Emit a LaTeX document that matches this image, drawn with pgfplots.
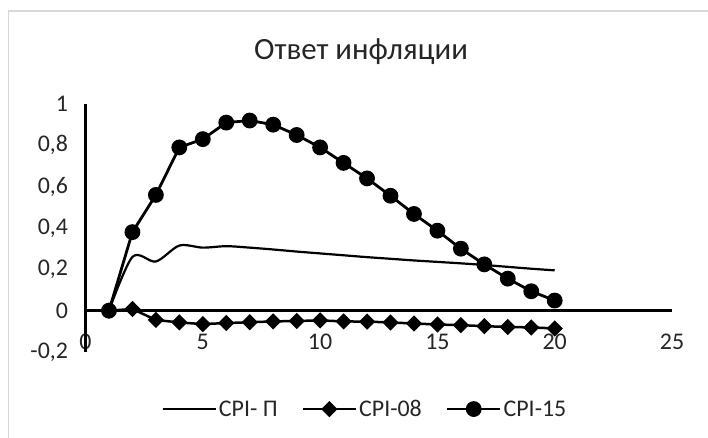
\documentclass[border=0pt]{standalone}
\usepackage{fontspec}
\setmainfont{Carlito}
\usepackage{pgfplots}
\pgfplotsset{compat=1.18}
\begin{document}
\begin{tikzpicture}
\path[use as bounding box] (0bp,0bp) rectangle (708bp,438bp);
\draw[color=black!15, line width=1.5bp] (8.5bp,0bp) -- (8.5bp,427bp) -- (708bp,427bp);
\begin{axis}[
 at={(85.5bp,86bp)}, anchor=south west,
 scale only axis, width=586.5bp, height=248bp,
 xmin=0, xmax=25, ymin=-0.2, ymax=1,
 xtick={0,5,...,25}, ytick={-0.2,0,0.2,0.4,0.6,0.8,1},
 axis line style={draw=none}, major tick length=0,
 /pgf/number format/assume math mode=true,
 /pgf/number format/use comma,
 ticklabel style={font=\fontsize{24}{24}\selectfont, text=black!85},
 xticklabel style={anchor=center, yshift=10bp},
 yticklabel style={anchor=east, xshift=-14bp},
 clip=false,
 legend columns=3,
 legend cell align=left,
 legend style={at={(axis description cs:0.4766,-0.23)}, anchor=center, draw=none, fill=none,
   font=\fontsize{24}{24}\selectfont, text=black!85,
   /tikz/every even column/.append style={column sep=22bp}, inner sep=0pt,
   nodes={inner sep=2bp}},
 legend image code/.code={\draw[mark repeat=2,mark phase=2,#1] plot coordinates {(0bp,0bp) (26.5bp,0bp) (53bp,0bp)};}
]
\draw[black, line width=2.5bp] (axis cs:0,-0.2) -- (axis cs:0,1);
\draw[black, line width=2.5bp] (axis cs:0,0) -- (axis cs:25,0);
\addplot[black, line width=2.2bp, smooth, tension=0.5, mark=none] coordinates {
(1,0) (2,0.26) (3,0.238) (4,0.315) (5,0.305) (6,0.312) (7,0.305) (8,0.296) (9,0.286) (10,0.277)
(11,0.268) (12,0.259) (13,0.251) (14,0.243) (15,0.236) (16,0.229) (17,0.221) (18,0.212) (19,0.203) (20,0.195)};
\addlegendentry{CPI- П}
\addplot[black, line width=2.5bp, mark=square*, mark size=4.5bp, mark options={rotate=45}] coordinates {
(1,0) (2,0.008) (3,-0.045) (4,-0.057) (5,-0.065) (6,-0.06) (7,-0.056) (8,-0.052) (9,-0.05) (10,-0.047)
(11,-0.052) (12,-0.053) (13,-0.057) (14,-0.062) (15,-0.067) (16,-0.07) (17,-0.075) (18,-0.079) (19,-0.081) (20,-0.086)};
\addlegendentry{CPI-08}
\addplot[black, line width=2.8bp, mark=*, mark size=6.5bp] coordinates {
(1,0) (2,0.38) (3,0.56) (4,0.79) (5,0.83) (6,0.91) (7,0.92) (8,0.90) (9,0.85) (10,0.79)
(11,0.715) (12,0.64) (13,0.556) (14,0.468) (15,0.387) (16,0.30) (17,0.224) (18,0.155) (19,0.094) (20,0.049)};
\addlegendentry{CPI-15}
\end{axis}
\node[font=\fontsize{31}{31}\selectfont, text=black!85] at (361bp,386bp) {Ответ инфляции};
\end{tikzpicture}
\end{document}
